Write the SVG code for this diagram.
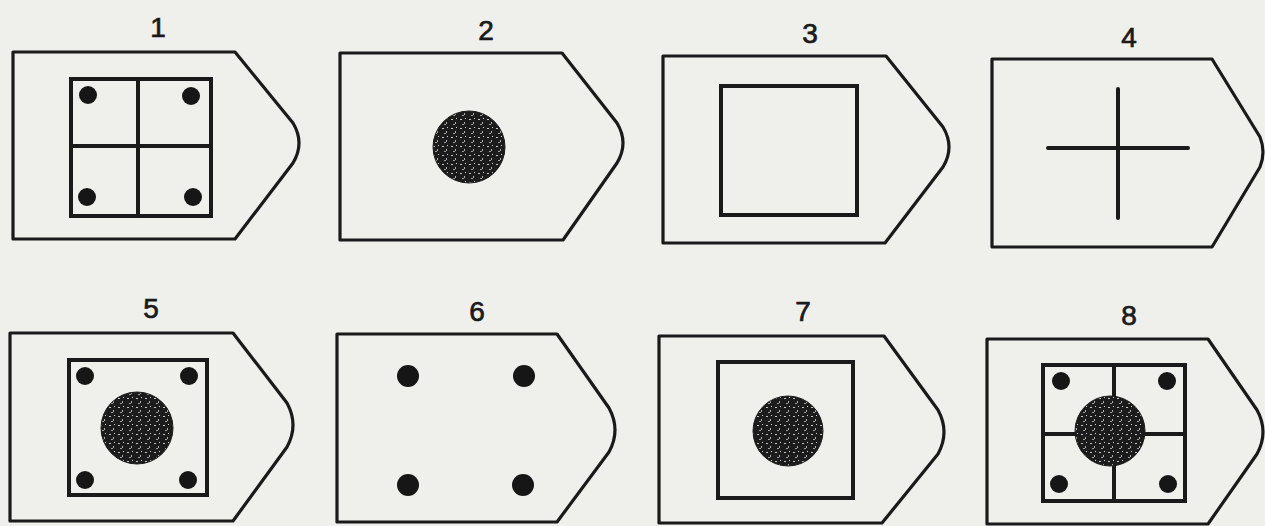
<svg xmlns="http://www.w3.org/2000/svg" width="1265" height="526" viewBox="0 0 1265 526">
<defs>
<pattern id="speck" width="9" height="9" patternUnits="userSpaceOnUse">
<rect width="9" height="9" fill="#1c1c1c"/>
<rect x="1" y="2" width="2" height="1" fill="#c4c4c4"/>
<rect x="5" y="5" width="1" height="2" fill="#b0b0b0"/>
<rect x="6" y="1" width="1" height="1" fill="#d4d4d4"/>
<rect x="3" y="7" width="2" height="1" fill="#a0a0a0"/>
</pattern>
</defs>
<style>
.board{fill:none;stroke:#1a1a1a;stroke-width:3.2;stroke-linejoin:round}
.inner{fill:none;stroke:#1a1a1a;stroke-width:4}
.bar{stroke:#1a1a1a;stroke-width:4;stroke-linecap:round}
.dot{fill:#161616}
.disc{fill:url(#speck);stroke:#1a1a1a;stroke-width:1}
.lbl{font-family:"Liberation Sans",Arial,sans-serif;font-size:28px;fill:#1a1a1a;stroke:#1a1a1a;stroke-width:0.7;text-anchor:middle}
</style>
<rect width="1265" height="526" fill="#efefec"/>

<g id="board1">
<text class="lbl" x="158" y="37">1</text>
<path class="board" d="M13,52 H235 L293,123 Q305,143 293,163 L235,239 H13 Z"/>
<rect class="inner" x="71" y="79" width="140" height="137"/>
<line class="bar" x1="138" y1="79" x2="138" y2="216"/>
<line class="bar" x1="71" y1="146" x2="211" y2="146"/>
<circle class="dot" cx="88" cy="95" r="9"/>
<circle class="dot" cx="191" cy="96" r="9"/>
<circle class="dot" cx="87" cy="197" r="9"/>
<circle class="dot" cx="193" cy="197" r="9"/>
</g>

<g id="board2">
<text class="lbl" x="486" y="40">2</text>
<path class="board" d="M340,53 H562 L617,123 Q629,143 617,163 L563,240 H340 Z"/>
<circle class="disc" cx="469" cy="147" r="36"/>
</g>

<g id="board3">
<text class="lbl" x="810" y="43">3</text>
<path class="board" d="M663,56 H886 L943,127 Q955,147 943,167 L885,243 H663 Z"/>
<rect class="inner" x="721" y="86" width="136" height="129"/>
</g>

<g id="board4">
<text class="lbl" x="1129" y="47">4</text>
<path class="board" d="M992,59 H1212 L1260,137 Q1266,152 1260,167 L1212,247 H992 Z"/>
<line class="bar" x1="1118" y1="89" x2="1118" y2="218"/>
<line class="bar" x1="1048" y1="148" x2="1188" y2="148"/>
</g>

<g id="board5">
<text class="lbl" x="151" y="318">5</text>
<path class="board" d="M10,333 H233 L287,403 Q299,425 287,447 L233,521 H10 Z"/>
<rect class="inner" x="69" y="360" width="138" height="135"/>
<circle class="dot" cx="85" cy="376" r="9"/>
<circle class="dot" cx="189" cy="376" r="9"/>
<circle class="dot" cx="85" cy="480" r="9"/>
<circle class="dot" cx="188" cy="480" r="9"/>
<circle class="disc" cx="137" cy="428" r="36"/>
</g>

<g id="board6">
<text class="lbl" x="477" y="321">6</text>
<path class="board" d="M337,334 H557 L609,408 Q621,430 609,452 L557,522 H337 Z"/>
<circle class="dot" cx="408" cy="376" r="11"/>
<circle class="dot" cx="524" cy="376" r="11"/>
<circle class="dot" cx="408" cy="485" r="11"/>
<circle class="dot" cx="523" cy="485" r="11"/>
</g>

<g id="board7">
<text class="lbl" x="803" y="321">7</text>
<path class="board" d="M659,336 H884 L938,410 Q950,432 938,454 L882,523 H659 Z"/>
<rect class="inner" x="718" y="362" width="135" height="136"/>
<circle class="disc" cx="788" cy="431" r="35"/>
</g>

<g id="board8">
<text class="lbl" x="1129" y="325">8</text>
<path class="board" d="M987,339 H1208 L1257,410 Q1269,432 1257,454 L1208,524 H987 Z"/>
<rect class="inner" x="1043" y="365" width="142" height="136"/>
<line class="bar" x1="1114" y1="365" x2="1114" y2="501"/>
<line class="bar" x1="1043" y1="434" x2="1185" y2="434"/>
<circle class="dot" cx="1061" cy="381" r="9"/>
<circle class="dot" cx="1167" cy="381" r="9"/>
<circle class="dot" cx="1059" cy="484" r="9"/>
<circle class="dot" cx="1168" cy="484" r="9"/>
<circle class="disc" cx="1110" cy="431" r="35"/>
</g>
</svg>
